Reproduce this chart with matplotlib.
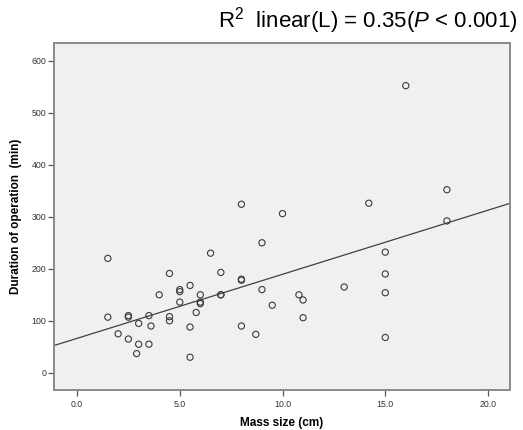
import numpy as np
import matplotlib
matplotlib.use("Agg")
import matplotlib.pyplot as plt

plt.rcParams['font.family'] = ['Liberation Sans', 'DejaVu Sans']
plt.rcParams['mathtext.fontset'] = 'custom'
plt.rcParams['mathtext.rm'] = 'Liberation Sans'
plt.rcParams['mathtext.it'] = 'Liberation Sans:italic'

mass_size = [1.5, 1.5, 2.0, 2.5, 2.5, 2.5, 3.0, 3.0, 2.9, 3.5, 3.5, 3.6, 4.0,
             4.5, 4.5, 4.5, 5.0, 5.0, 5.0, 5.5, 5.5, 5.5, 5.8, 6.0, 6.0, 6.0,
             6.5, 7.0, 7.0, 7.0, 8.0, 8.0, 8.0, 8.0, 8.7, 9.0, 9.0, 9.5, 10.0,
             10.8, 11.0, 11.0, 13.0, 14.2, 15.0, 15.0, 15.0, 15.0, 16.0, 18.0, 18.0]
duration = [220, 107, 75, 110, 107, 65, 95, 55, 37, 110, 55, 90, 150,
            191, 108, 100, 160, 156, 136, 168, 88, 30, 116, 150, 136, 133,
            230, 193, 150, 150, 324, 180, 178, 90, 74, 250, 160, 130, 306,
            150, 140, 106, 165, 326, 232, 190, 154, 68, 552, 352, 292]

x_ticks = [0, 5, 10, 15, 20]
y_ticks = [0, 100, 200, 300, 400, 500, 600]
title_text = r"R$^2$  linear(L) = 0.35($\mathit{P}$ < 0.001)"

fig = plt.figure(figsize=(5.23, 4.30), dpi=100)
ax = fig.add_axes([54/523, 1-390/430, (510-54)/523, (390-43)/430])
ax.set_facecolor('#f0f0f0')

xs = np.array(mass_size, dtype=float)
ys = np.array(duration, dtype=float)
ax.scatter(xs, ys, s=20, facecolors='none', edgecolors='#3a3a3a', linewidths=0.8, zorder=3)

xlim = (-1.12, 21.07)
ylim = (-33, 634)
slope, intercept = np.polyfit(xs, ys, 1)
lx = np.array(xlim)
ax.plot(lx, intercept + slope * lx, color='#404040', lw=0.9, zorder=2)

ax.set_xlim(*xlim)
ax.set_ylim(*ylim)
ax.set_xticks(x_ticks)
ax.set_xticklabels([f"{v:.1f}" for v in x_ticks])
ax.set_yticks(y_ticks)
ax.set_yticklabels([str(v) for v in y_ticks])
ax.tick_params(axis='both', labelsize=6.3, colors='#555555', labelcolor='#333333',
               length=4, width=0.9, direction='out', pad=1.5)
ax.tick_params(axis='x', pad=3)

for s in ax.spines.values():
    s.set_color('#8a8a8a')
    s.set_linewidth(1.4)

ax.set_xlabel('Mass size (cm)', fontsize=8.5, fontweight='bold', labelpad=6)
ax.set_ylabel('Duration of operation  (min)', fontsize=8.5, fontweight='bold', labelpad=7)

fig.text(0.99, 0.988, title_text, ha='right', va='top', fontsize=16)

fig.savefig('out.png', dpi=100, facecolor='white')
